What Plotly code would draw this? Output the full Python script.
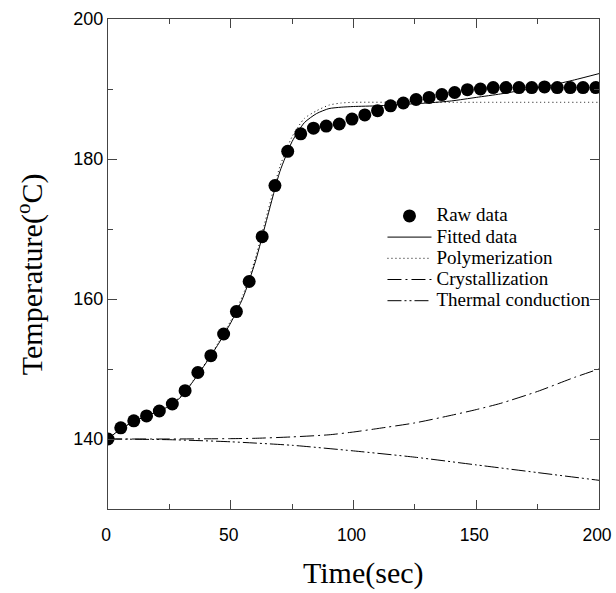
import plotly.graph_objects as go

# Measured temperature (raw data)
raw_time = [0, 5.2, 10.5, 15.7, 20.9, 26.2, 31.4, 36.6, 41.9, 47.1, 52.3, 57.5, 62.8,
            68.0, 73.2, 78.5, 83.7, 88.9, 94.2, 99.4, 104.6, 109.8, 115.1, 120.3, 125.5,
            130.8, 136.0, 141.2, 146.4, 151.7, 156.9, 162.1, 167.4, 172.6, 177.8, 183.0,
            188.3, 193.5, 198.7]
raw_temp = [140.0, 141.6, 142.6, 143.3, 144.0, 145.0, 146.9, 149.5, 151.9, 155.0, 158.2,
            162.5, 168.9, 176.2, 181.1, 183.6, 184.4, 184.7, 185.0, 185.7, 186.3, 186.9,
            187.6, 188.0, 188.5, 188.8, 189.2, 189.5, 189.9, 190.0, 190.2, 190.2, 190.2,
            190.2, 190.3, 190.2, 190.2, 190.2, 190.2]

# Model fit
fit_time = [0, 5, 10, 15, 20, 25, 30, 35, 40, 45, 50, 55, 60, 65, 70, 75, 80, 85, 90, 95,
            100, 110, 120, 130, 140, 150, 160, 170, 180, 190, 200]
fit_temp = [140.0, 141.4, 142.4, 143.2, 143.9, 144.7, 146.1, 148.4, 150.9, 153.6, 156.6,
            160.2, 165.3, 171.8, 178.2, 182.5, 185.2, 186.5, 187.2, 187.4, 187.5, 187.6,
            187.8, 188.0, 188.3, 188.8, 189.3, 189.9, 190.5, 191.3, 192.2]

# Polymerization contribution
poly_time = [0, 5, 10, 15, 20, 25, 30, 35, 40, 45, 50, 55, 60, 65, 70, 75, 80, 85, 90, 95,
             100, 120, 150, 200]
poly_temp = [140.0, 141.4, 142.4, 143.2, 143.9, 144.8, 146.2, 148.5, 151.0, 153.8, 156.9,
             160.6, 165.8, 172.4, 178.9, 183.2, 185.8, 186.9, 187.7, 188.0, 188.1, 188.1,
             188.1, 188.1]

# Crystallization contribution
cryst_time = [0, 25, 50, 60, 75, 90, 100, 110, 125, 140, 150, 160, 175, 190, 200]
cryst_temp = [140.0, 140.0, 140.05, 140.1, 140.3, 140.6, 141.0, 141.5, 142.3, 143.4, 144.2,
              145.1, 146.8, 148.8, 150.0]

# Thermal conduction contribution
cond_time = [0, 25, 50, 75, 100, 125, 150, 175, 200]
cond_temp = [140.0, 139.9, 139.6, 139.1, 138.3, 137.4, 136.3, 135.2, 134.1]

SERIF = "Liberation Serif, Times New Roman, serif"
SANS = "Liberation Sans, Arial, sans-serif"


def name(s):
    return f'<span style="font-size:19px">{s}</span>'


fig = go.Figure()
fig.add_trace(go.Scatter(x=fit_time, y=fit_temp, mode="lines", name=name("Fitted data"),
                         line=dict(color="black", width=1, shape="spline", smoothing=0.6),
                         legendrank=2))
fig.add_trace(go.Scatter(x=poly_time, y=poly_temp, mode="lines", name=name("Polymerization"),
                         line=dict(color="black", width=1, dash="1px,3px", shape="spline",
                                   smoothing=0.6),
                         legendrank=3))
fig.add_trace(go.Scatter(x=cryst_time, y=cryst_temp, mode="lines", name=name("Crystallization"),
                         line=dict(color="black", width=1, dash="14px,4px,2px,4px",
                                   shape="spline", smoothing=0.6),
                         legendrank=4))
fig.add_trace(go.Scatter(x=cond_time, y=cond_temp, mode="lines", name=name("Thermal conduction"),
                         line=dict(color="black", width=1, dash="14px,3px,2px,3px,2px,3px",
                                   shape="spline", smoothing=0.6),
                         legendrank=5))
fig.add_trace(go.Scatter(x=raw_time, y=raw_temp, mode="markers", name=name("Raw data"),
                         marker=dict(color="black", size=13, line=dict(width=0)),
                         legendrank=1))

axis_common = dict(
    showgrid=False, zeroline=False, showline=True, linecolor="#444", linewidth=1,
    mirror="allticks", ticks="inside", ticklen=9, tickcolor="#444", tickwidth=1,
    ticklabeloverflow="allow",
)

fig.update_xaxes(range=[0, 200], tick0=0, dtick=50, ticklabelstandoff=10, ticklabelshift=-2,
                 tickfont=dict(family=SANS, size=17.5, color="black"),
                 minor=dict(ticks="inside", dtick=25, ticklen=5, tickcolor="#444"),
                 **axis_common)
fig.update_yaxes(range=[130, 200], tick0=140, dtick=20,
                 tickfont=dict(family=SANS, size=18, color="black"),
                 minor=dict(ticks="inside", dtick=10, tick0=130, ticklen=5, tickcolor="#444"),
                 **axis_common)

fig.update_layout(
    width=616, height=593,
    margin=dict(l=108, r=17, t=19, b=84, autoexpand=False),
    plot_bgcolor="white", paper_bgcolor="white",
    showlegend=True,
    legend=dict(x=0.559, y=0.63, xanchor="left", yanchor="top",
                font=dict(family=SERIF, size=14, color="black"),
                bgcolor="rgba(0,0,0,0)", itemwidth=44),
    annotations=[
        dict(text="Time(sec)", xref="paper", yref="paper", x=0.52, y=-0.13,
             xanchor="center", yanchor="middle", showarrow=False,
             font=dict(family=SERIF, size=30, color="black")),
        dict(text="Temperature(<sup>o</sup>C)", xref="paper", yref="paper", x=-0.158, y=0.48,
             xanchor="center", yanchor="middle", showarrow=False, textangle=-90,
             font=dict(family=SERIF, size=30, color="black")),
    ],
)

fig.write_html("out.html")
